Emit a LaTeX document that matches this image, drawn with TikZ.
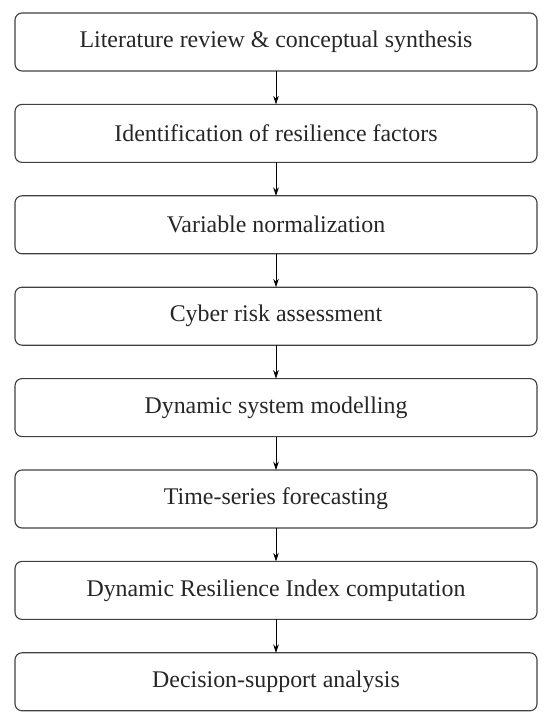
\documentclass[tikz,border=0pt]{standalone}
\usepackage{fontspec}
\setmainfont{Liberation Serif}
\usetikzlibrary{positioning}
\usetikzlibrary{arrows.meta}

\begin{document}
\begin{tikzpicture}[>={Stealth[length=6pt,width=4pt]},
    stepbox/.style={draw=black!75,line width=0.8pt,rounded corners=5pt,
        minimum width=13.05cm,minimum height=1.45cm,inner sep=0pt,outer sep=0pt,
        text=black!85,font=\fontsize{17}{20}\selectfont},
    node distance=0.835cm]
                \useasboundingbox (0,0) rectangle (13.75,-18.2);
                \node[stepbox] (lit) at (6.9,-1.05) {Literature review \& conceptual synthesis};
                \node[stepbox,below=of lit] (ident) {Identification of resilience factors};
                \node[stepbox,below=of ident] (norm) {Variable normalization};
                \node[stepbox,below=of norm] (risk) {Cyber risk assessment};
                \node[stepbox,below=of risk] (model) {Dynamic system modelling};
                \node[stepbox,below=of model] (fcast) {Time-series forecasting};
                \node[stepbox,below=of fcast] (dri) {Dynamic Resilience Index computation};
                \node[stepbox,below=of dri] (dsa) {Decision-support analysis};
                \draw[->,line width=0.6pt] (lit) -- (ident);
                \draw[->,line width=0.6pt] (ident) -- (norm);
                \draw[->,line width=0.6pt] (norm) -- (risk);
                \draw[->,line width=0.6pt] (risk) -- (model);
                \draw[->,line width=0.6pt] (model) -- (fcast);
                \draw[->,line width=0.6pt] (fcast) -- (dri);
                \draw[->,line width=0.6pt] (dri) -- (dsa);
            \end{tikzpicture}
\end{document}
